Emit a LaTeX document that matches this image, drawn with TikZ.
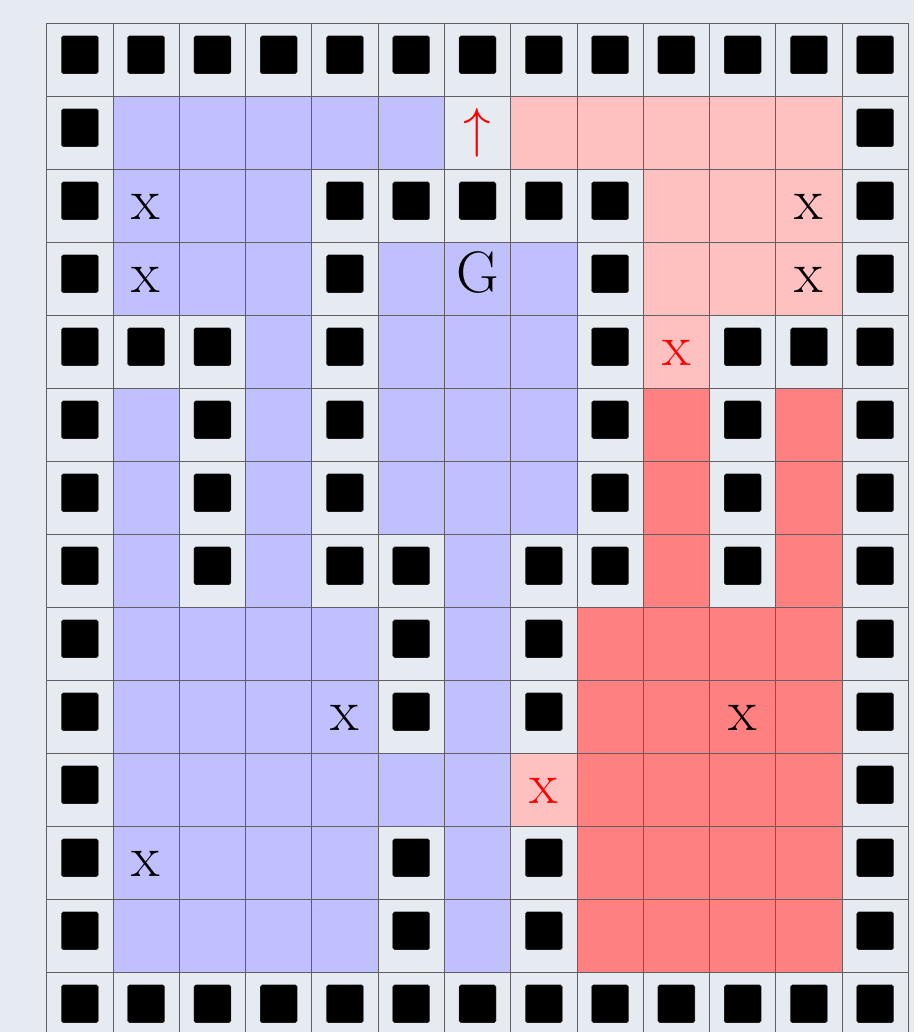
\documentclass[tikz,border=0pt]{standalone}
\definecolor{bgc}{RGB}{230,235,242}
\definecolor{colW}{RGB}{230,235,242}
\definecolor{colE}{RGB}{230,235,242}
\definecolor{colB}{RGB}{192,192,255}
\definecolor{colR}{RGB}{255,192,192}
\definecolor{colD}{RGB}{255,128,128}
\definecolor{gridc}{RGB}{95,95,100}
\tikzset{
  cell/.style={draw=gridc, line width=0.8pt, minimum width=66.28pt, minimum height=73pt, inner sep=0pt, outer sep=0pt},
  wallsq/.style={fill=black, draw=black!70, line width=0.3pt, minimum width=37pt, minimum height=38pt, inner sep=0pt, rounded corners=1.8pt},
  lbl/.style={anchor=base, inner sep=0pt, font=\fontsize{58.6}{70}\selectfont}
}
\begin{document}
\begin{tikzpicture}[x=1pt,y=1pt]
\useasboundingbox (0,0) rectangle (914,1032);
\fill[bgc] (0,0) rectangle (914,1032);
\clip (0,0) rectangle (914,1032);
\foreach \row [count=\r from 0] in {
  {W,W,W,W,W,W,W,W,W,W,W,W,W},
  {W,B,B,B,B,B,E,R,R,R,R,R,W},
  {W,B,B,B,W,W,W,W,W,R,R,R,W},
  {W,B,B,B,W,B,B,B,W,R,R,R,W},
  {W,W,W,B,W,B,B,B,W,R,W,W,W},
  {W,B,W,B,W,B,B,B,W,D,W,D,W},
  {W,B,W,B,W,B,B,B,W,D,W,D,W},
  {W,B,W,B,W,W,B,W,W,D,W,D,W},
  {W,B,B,B,B,W,B,W,D,D,D,D,W},
  {W,B,B,B,B,W,B,W,D,D,D,D,W},
  {W,B,B,B,B,B,B,R,D,D,D,D,W},
  {W,B,B,B,B,W,B,W,D,D,D,D,W},
  {W,B,B,B,B,W,B,W,D,D,D,D,W},
  {W,W,W,W,W,W,W,W,W,W,W,W,W}}{
  \foreach \t [count=\c from 0] in \row {
    \node[cell, fill=col\t] (c\r-\c) at ({79.84+66.28*\c},{972.5-73*\r}) {};
    \if\t W
      \node[wallsq] (w\r-\c) at ([yshift=4.7pt]c\r-\c.center) {};
    \fi
  }
}
\node[anchor=base, inner sep=0pt, text=red, font=\normalsize] (arrow) at ([yshift=-14.5pt]c1-6.center) {\scalebox{5.5}{$\uparrow$}};
\node[lbl] (goal) at ([yshift=-14.5pt]c3-6.center) {G};
\foreach \r/\c/\col in {2/1/black, 3/1/black, 2/11/black, 3/11/black, 4/9/red, 9/4/black, 9/10/black, 10/7/red, 11/1/black}{
  \node[lbl, text=\col] (x\r-\c) at ([yshift=-14.5pt]c\r-\c.center) {x};
}
\end{tikzpicture}
\end{document}
